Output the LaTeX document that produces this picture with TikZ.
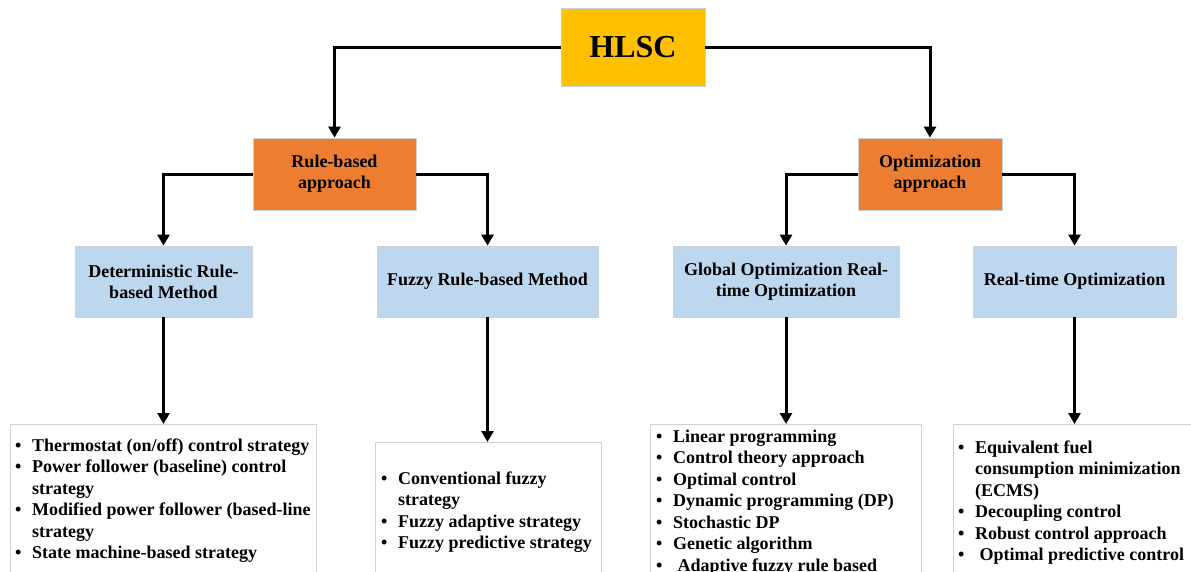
\documentclass[tikz,border=0pt]{standalone}
\usepackage{fontspec}
\setmainfont{Liberation Serif}
\usetikzlibrary{arrows.meta}
\definecolor{hlscgold}{HTML}{FFC000}
\definecolor{orangebox}{HTML}{ED7D31}
\definecolor{bluebox}{HTML}{BDD7EE}
\definecolor{boxline}{HTML}{C9D3DE}
\newcommand\bitem[1]{\makebox[17pt][l]{\textbullet}#1}
\newcommand\bcont[1]{\hspace*{17pt}#1}
\begin{document}
\begin{tikzpicture}[x=1pt,y=-1pt,
  box/.style={draw=boxline, line width=0.8pt, inner sep=0pt, align=center,
    font=\bfseries\fontsize{18}{21}\selectfont},
  topbox/.style={box, fill=hlscgold, font=\bfseries\fontsize{32}{36}\selectfont},
  midbox/.style={box, fill=orangebox},
  methbox/.style={box, fill=bluebox},
  listbox/.style={draw=boxline, line width=0.8pt, fill=white, inner sep=0pt},
  listtext/.style={inner sep=0pt, align=left, anchor=north west,
    font=\bfseries\fontsize{18}{21.5}\selectfont},
  conn/.style={line width=3pt, -{Triangle[width=12pt,length=11pt]}}]
\clip (0,0) rectangle (1191,571);
\fill[white] (0,0) rectangle (1191,571);

% top
\node[topbox, minimum width=144pt, minimum height=78pt] (hlsc) at (633,47) {HLSC};
% approaches
\node[midbox, minimum width=163pt, minimum height=72pt] (rule) at (334.5,174) {Rule-based\\approach};
\node[midbox, minimum width=144pt, minimum height=72pt] (opt) at (930,174) {Optimization\\approach};
% methods
\node[methbox, minimum width=177pt, minimum height=71pt] (det) at (163.5,281.5) {Deterministic Rule-\\based Method};
\node[methbox, minimum width=221pt, minimum height=71pt] (fuzzy) at (487.5,281.5) {Fuzzy Rule-based Method};
\node[methbox, minimum width=226pt, minimum height=71pt] (glob) at (786,281.5) {Global Optimization Real-\\time Optimization};
\node[methbox, minimum width=203pt, minimum height=71pt] (rt) at (1074.5,281.5) {Real-time Optimization};
% list boxes
\node[listbox, anchor=north, minimum width=306pt, minimum height=180pt] (list1) at (163,424) {};
\node[listbox, anchor=north, minimum width=226pt, minimum height=180pt] (list2) at (488,442) {};
\node[listbox, anchor=north, minimum width=271pt, minimum height=180pt] (list3) at (785.5,424) {};
\node[listbox, anchor=north, minimum width=242pt, minimum height=180pt] (list4) at (1074,424) {};

\node[listtext] (text1) at (15,436) {\strut\bitem{Thermostat (on/off) control strategy}\\
  \bitem{Power follower (baseline) control}\\
  \bcont{strategy}\\
  \bitem{Modified power follower (based-line}\\
  \bcont{strategy}\\
  \bitem{State machine-based strategy}};
\node[listtext] (text2) at (381,469) {\strut\bitem{Conventional fuzzy}\\
  \bcont{strategy}\\
  \bitem{Fuzzy adaptive strategy}\\
  \bitem{Fuzzy predictive strategy}};
\node[listtext] (text3) at (656,427) {\strut\bitem{Linear programming}\\
  \bitem{Control theory approach}\\
  \bitem{Optimal control}\\
  \bitem{Dynamic programming (DP)}\\
  \bitem{Stochastic DP}\\
  \bitem{Genetic algorithm}\\
  \bitem{\ Adaptive fuzzy rule based}};
\node[listtext] (text4) at (958,438) {\strut\bitem{Equivalent fuel}\\
  \bcont{consumption minimization}\\
  \bcont{(ECMS)}\\
  \bitem{Decoupling control}\\
  \bitem{Robust control approach}\\
  \bitem{\ Optimal predictive control}};

% connectors
\draw[conn] (hlsc.west) -| (rule.north);
\draw[conn] (hlsc.east) -| (opt.north);
\draw[conn] (rule.west) -| (det.north);
\draw[conn] (rule.east) -| (fuzzy.north);
\draw[conn] (opt.west) -| (glob.north);
\draw[conn] (opt.east) -| (rt.north);
\draw[conn] (det.south) -- (det.south |- list1.north);
\draw[conn] (fuzzy.south) -- (fuzzy.south |- list2.north);
\draw[conn] (glob.south) -- (glob.south |- list3.north);
\draw[conn] (rt.south) -- (rt.south |- list4.north);
\end{tikzpicture}
\end{document}
